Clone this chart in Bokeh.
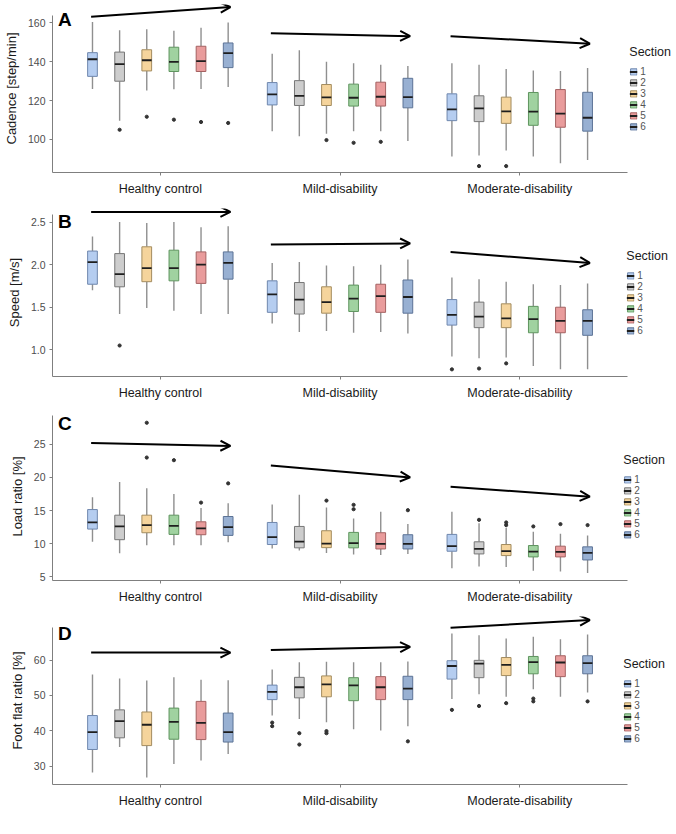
import numpy as np
import pandas as pd
from bokeh.plotting import figure
from bokeh.models import (ColumnDataSource, Range1d, FixedTicker, Arrow, OpenHead,
                          Label, Legend, LegendItem, PrintfTickFormatter)
from bokeh.layouts import column
from bokeh.embed import file_html
from bokeh.resources import INLINE

GROUPS = ["Healthy control", "Mild-disability", "Moderate-disability"]
SECTIONS = ["1", "2", "3", "4", "5", "6"]
FILLS = ["#b5cdf0", "#cdcdcd", "#f5d49c", "#a0d2a0", "#e99c9c", "#98b0d2"]
OUTLINES = ["#6f87ad", "#767676", "#a38c5f", "#5f955f", "#a46161", "#5c7396"]

# ---- Cadence [step/min] (group-major: healthy 1..6, mild 1..6, moderate 1..6)
CAD_LOW = [126, 109.7, 125.2, 125.8, 126, 127,
           104.3, 101.7, 103, 104.3, 104.3, 99.2,
           91.2, 91.7, 94.3, 91.2, 87.8, 89.5]
CAD_Q1 = [132.5, 130, 135.3, 135, 135, 137,
          117.8, 117.5, 117.5, 117.2, 117.2, 116.3,
          109.7, 109.2, 108.3, 107.3, 106.3, 104.3]
CAD_MED = [141.3, 138.8, 140.8, 140, 140.3, 144.5,
           123.2, 122.5, 121.7, 121.5, 122, 121.8,
           115.5, 116, 114.5, 114.3, 113.3, 111.2]
CAD_Q3 = [144.7, 145, 146.2, 147.5, 148, 149.7,
          129.3, 130.3, 128.3, 128.5, 129.5, 131.5,
          123.5, 122.5, 121.8, 124.2, 125.7, 124.3]
CAD_HIGH = [160.5, 156.3, 156.8, 156, 157.5, 160.2,
            144.2, 146, 140, 139.3, 138.5, 137.8,
            139.2, 138.5, 136.3, 135.5, 135.3, 136.8]
CAD_OUT_GROUP = [0, 0, 0, 0, 0, 1, 1, 1, 2, 2]
CAD_OUT_SECTION = [2, 3, 4, 5, 6, 3, 4, 5, 2, 3]
CAD_OUT_VALUE = [105, 111.7, 110.2, 109, 108.5, 99.7, 98.3, 98.8, 86.3, 86.3]
CAD_TREND_FROM = [163.2, 154.7, 153.2]
CAD_TREND_TO = [168.2, 153.2, 149.3]

# ---- Speed [m/s]
SPD_LOW = [1.70, 1.42, 1.49, 1.46, 1.42, 1.42,
           1.31, 1.21, 1.22, 1.20, 1.21, 1.19,
           0.92, 0.90, 0.91, 0.81, 0.77, 0.77]
SPD_Q1 = [1.77, 1.74, 1.80, 1.81, 1.78, 1.83,
          1.44, 1.42, 1.43, 1.45, 1.44, 1.43,
          1.29, 1.26, 1.26, 1.20, 1.20, 1.17]
SPD_MED = [2.03, 1.89, 1.96, 1.96, 2.00, 2.02,
           1.65, 1.59, 1.56, 1.60, 1.63, 1.62,
           1.41, 1.39, 1.37, 1.36, 1.34, 1.34]
SPD_Q3 = [2.16, 2.13, 2.21, 2.17, 2.15, 2.15,
          1.81, 1.79, 1.74, 1.76, 1.77, 1.82,
          1.59, 1.56, 1.54, 1.51, 1.50, 1.47]
SPD_HIGH = [2.33, 2.50, 2.49, 2.50, 2.44, 2.45,
            2.02, 2.03, 1.99, 1.98, 2.00, 2.06,
            1.85, 1.83, 1.80, 1.77, 1.76, 1.78]
SPD_OUT_GROUP = [0, 2, 2, 2]
SPD_OUT_SECTION = [2, 1, 2, 3]
SPD_OUT_VALUE = [1.05, 0.77, 0.78, 0.84]
SPD_TREND_FROM = [2.62, 2.236, 2.148]
SPD_TREND_TO = [2.62, 2.25, 2.02]

# ---- Load ratio [%]
LR_LOW = [10.3, 8.55, 9.77, 9.77, 9.77, 10.2,
          9.26, 8.96, 8.6, 8.35, 8.3, 8.45,
          6.3, 6.57, 6.47, 5.9, 5.8, 5.56]
LR_Q1 = [12.2, 10.6, 11.65, 11.4, 11.35, 11.25,
         9.87, 9.37, 9.4, 9.37, 9.2, 9.2,
         8.86, 8.45, 8.2, 8.0, 8.0, 7.54]
LR_MED = [13.2, 12.6, 12.8, 12.7, 12.3, 12.5,
          11.0, 10.3, 10.0, 10.08, 9.97, 9.97,
          9.62, 9.2, 8.86, 8.8, 8.76, 8.6]
LR_Q3 = [15.15, 14.3, 14.3, 14.3, 13.3, 14.1,
         13.2, 12.6, 11.95, 11.7, 11.65, 11.35,
         11.4, 10.28, 9.87, 9.72, 9.62, 9.52]
LR_HIGH = [17.0, 19.3, 18.35, 17.5, 15.4, 16.1,
           15.9, 17.4, 15.45, 13.8, 14.8, 12.97,
           14.8, 13.07, 12.4, 11.8, 11.5, 11.24]
LR_OUT_GROUP = [0, 0, 0, 0, 0, 1, 1, 1, 1, 2, 2, 2, 2, 2, 2]
LR_OUT_SECTION = [3, 3, 4, 5, 6, 3, 4, 4, 6, 2, 3, 3, 4, 5, 6]
LR_OUT_VALUE = [28.25, 23.0, 22.6, 16.2, 19.1, 16.5, 15.86, 15.2, 15.05,
                13.6, 13.2, 12.8, 12.6, 12.95, 12.8]
LR_TREND_FROM = [25.2, 21.8, 18.6]
LR_TREND_TO = [24.75, 20.0, 17.1]

# ---- Foot flat ratio [%]
FF_LOW = [28.2, 35.4, 26.8, 30.6, 31.6, 33.4,
          44.3, 43.3, 42.4, 40.4, 40.1, 41.3,
          49.0, 50.3, 49.6, 51.7, 49.6, 50.8]
FF_Q1 = [34.7, 38.0, 35.8, 37.6, 37.5, 36.8,
         48.8, 49.3, 49.6, 48.5, 48.8, 48.8,
         54.6, 55.0, 55.6, 56.1, 55.3, 56.1]
FF_MED = [39.6, 42.7, 41.7, 42.5, 42.2, 39.6,
          51.0, 52.3, 53.1, 52.8, 52.3, 51.9,
          58.3, 59.0, 58.6, 59.4, 59.3, 59.1]
FF_Q3 = [44.3, 45.9, 45.3, 46.4, 48.3, 45.0,
         52.9, 55.1, 55.5, 55.0, 55.3, 55.4,
         59.8, 59.9, 60.7, 61.0, 61.2, 61.2]
FF_HIGH = [55.9, 54.8, 54.2, 55.1, 54.4, 54.3,
           57.3, 59.4, 59.5, 59.4, 59.4, 59.6,
           67.5, 67.0, 66.1, 66.6, 65.9, 67.2]
FF_OUT_GROUP = [1, 1, 1, 1, 1, 1, 1, 2, 2, 2, 2, 2, 2]
FF_OUT_SECTION = [1, 1, 2, 2, 3, 3, 6, 1, 2, 3, 4, 4, 6]
FF_OUT_VALUE = [42.3, 41.3, 39.3, 36.1, 39.9, 39.3, 37.0,
                45.9, 47.0, 47.8, 49.1, 48.3, 48.3]
FF_TREND_FROM = [62.1, 62.8, 69.1]
FF_TREND_TO = [62.1, 63.7, 71.3]

DODGE = 0.151
BOX_W = 0.054
FONT = "Liberation Sans"


def panel(ylabel, low, q1, med, q3, high, og, osec, ov, tr_from, tr_to,
          yr, yticks, ytop, fmt, letter, letter_y):
    ng, ns = len(GROUPS), len(SECTIONS)
    g = np.repeat(np.arange(1, ng + 1), ns)
    s = np.tile(np.arange(ns), ng)
    x = g + (s - (ns - 1) / 2) * DODGE
    df = pd.DataFrame(dict(x=x, xl=x - BOX_W / 2, xr=x + BOX_W / 2,
                           low=low, q1=q1, med=med, q3=q3, high=high,
                           fill=[FILLS[i] for i in s], line=[OUTLINES[i] for i in s]))
    src = ColumnDataSource(df)

    p = figure(frame_width=620, frame_height=168, x_range=Range1d(0.4, 3.85), y_range=Range1d(*yr),
               output_backend="svg", toolbar_location=None,
               min_border_left=40, min_border_top=4, min_border_bottom=32, min_border_right=0)
    p.outline_line_color = None
    p.xgrid.visible = False
    p.ygrid.visible = False

    p.segment("x", "low", "x", "q1", source=src, line_color="#8f8f8f", line_width=1.4)
    p.segment("x", "q3", "x", "high", source=src, line_color="#8f8f8f", line_width=1.4)
    box = p.vbar(x="x", width=BOX_W, bottom="q1", top="q3", source=src,
                 fill_color="fill", line_color="line", line_width=1)
    medr = p.segment("xl", "med", "xr", "med", source=src, line_color="#1e1e1e", line_width=1.8)

    ox = [og[k] + 1 + (osec[k] - 1 - (ns - 1) / 2) * DODGE for k in range(len(ov))]
    p.scatter(x=ox, y=ov, size=3.2, color="#333333")

    tsrc = ColumnDataSource(dict(xs=[i + 1 - 0.385 for i in range(ng)], ys=tr_from,
                                 xe=[i + 1 + 0.39 for i in range(ng)], ye=tr_to))
    p.add_layout(Arrow(end=OpenHead(size=10, line_width=2, line_color="black"),
                       source=tsrc, x_start="xs", y_start="ys", x_end="xe", y_end="ye",
                       line_width=2, line_color="black"))

    p.add_layout(Label(x=0.43, y=letter_y, text=letter, text_font=FONT,
                       text_font_style="bold", text_font_size="19px",
                       text_baseline="middle", text_align="left", text_color="black"))

    xa = p.xaxis[0]
    xa.ticker = FixedTicker(ticks=[1, 2, 3])
    xa.major_label_overrides = {i + 1: GROUPS[i] for i in range(ng)}
    xa.bounds = (0.4, 3.6)
    xa.major_label_text_font = FONT
    xa.major_label_text_font_size = "12.5px"
    xa.major_label_text_color = "#1a1a1a"
    xa.major_label_standoff = 6
    xa.axis_line_color = "#7f7f7f"
    xa.major_tick_line_color = "#7f7f7f"
    xa.major_tick_out = 3
    xa.major_tick_in = 0
    xa.minor_tick_line_color = None

    ya = p.yaxis[0]
    ya.ticker = FixedTicker(ticks=yticks)
    ya.formatter = PrintfTickFormatter(format=fmt)
    ya.bounds = (yr[0], ytop)
    ya.axis_label = ylabel
    ya.axis_label_text_font = FONT
    ya.axis_label_text_font_style = "normal"
    ya.axis_label_text_font_size = "13px"
    ya.axis_label_text_color = "#1a1a1a"
    ya.axis_label_standoff = 6
    ya.major_label_text_font = FONT
    ya.major_label_text_font_size = "10.5px"
    ya.major_label_text_color = "#4d4d4d"
    ya.major_label_standoff = 4
    ya.axis_line_color = "#7f7f7f"
    ya.major_tick_line_color = "#7f7f7f"
    ya.major_tick_out = 3
    ya.major_tick_in = 0
    ya.minor_tick_line_color = None

    items = [LegendItem(label=SECTIONS[i], renderers=[box, medr], index=i) for i in range(ns)]
    leg = Legend(items=items, title="Section", location="center_right",
                 title_text_font=FONT, title_text_font_size="12.5px",
                 title_text_font_style="normal", title_text_color="#1a1a1a",
                 label_text_font=FONT, label_text_font_size="10px", label_text_color="#555555",
                 label_text_line_height=1.0,
                 glyph_width=8, glyph_height=8, label_height=8, spacing=0,
                 label_standoff=3, padding=2, margin=1, title_standoff=7,
                 border_line_color=None, background_fill_alpha=0)
    p.add_layout(leg, "center")
    return p


pA = panel("Cadence [step/min]", CAD_LOW, CAD_Q1, CAD_MED, CAD_Q3, CAD_HIGH,
           CAD_OUT_GROUP, CAD_OUT_SECTION, CAD_OUT_VALUE, CAD_TREND_FROM, CAD_TREND_TO,
           (83, 169.5), [100, 120, 140, 160], 163.8, "%d", "A", 162)
pB = panel("Speed [m/s]", SPD_LOW, SPD_Q1, SPD_MED, SPD_Q3, SPD_HIGH,
           SPD_OUT_GROUP, SPD_OUT_SECTION, SPD_OUT_VALUE, SPD_TREND_FROM, SPD_TREND_TO,
           (0.686, 2.66), [1.0, 1.5, 2.0, 2.5], 2.59, "%.1f", "B", 2.51)
pC = panel("Load ratio [%]", LR_LOW, LR_Q1, LR_MED, LR_Q3, LR_HIGH,
           LR_OUT_GROUP, LR_OUT_SECTION, LR_OUT_VALUE, LR_TREND_FROM, LR_TREND_TO,
           (4.44, 29.8), [5, 10, 15, 20, 25], 29.3, "%d", "C", 28.2)
pD = panel("Foot flat ratio [%]", FF_LOW, FF_Q1, FF_MED, FF_Q3, FF_HIGH,
           FF_OUT_GROUP, FF_OUT_SECTION, FF_OUT_VALUE, FF_TREND_FROM, FF_TREND_TO,
           (24.8, 72.3), [30, 40, 50, 60], 69.3, "%d", "D", 67.4)

layout = column(pA, pB, pC, pD, spacing=0)
open("out.html", "w").write(file_html(layout, INLINE))
